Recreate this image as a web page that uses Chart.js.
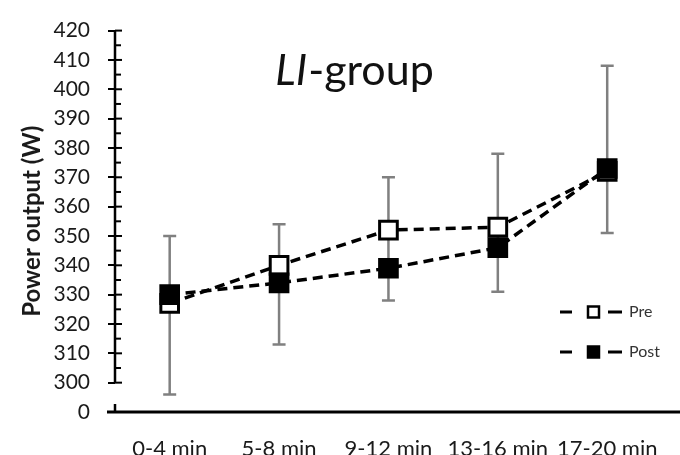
<!DOCTYPE html>
<html>
<head>
<title>LI-group</title>
<script src="https://cdn.jsdelivr.net/npm/chart.js"></script>
<style>
  body { margin: 0; overflow: hidden; background: #fff; }
</style>
</head>
<body>
<canvas id="myChart" width="683" height="455"></canvas>
<script>
const periods = ['0-4 min', '5-8 min', '9-12 min', '13-16 min', '17-20 min'];
const preValues = [327, 340, 352, 353, 372];
const postValues = [330, 334, 339, 346, 373];
// SD whiskers (low / high end)
const errLow = [296, 313, 328, 331, 351];
const errHigh = [350, 354, 370, 378, 408];
// axis is broken below 300, bottom step is labelled 0
const yMin = 290;
const yMax = 420;
const yStart = 300;

const decorations = {
  id: 'decorations',
  beforeDatasetsDraw(chart) {
    const { ctx, scales: { x, y }, chartArea } = chart;
    const left = chartArea.left;
    const base = y.getPixelForValue(yMin);
    ctx.save();

    // error bars
    ctx.strokeStyle = '#808080';
    ctx.lineWidth = 2.5;
    errLow.forEach((lo, i) => {
      const px = x.getPixelForValue(i);
      const top = y.getPixelForValue(errHigh[i]);
      const bot = y.getPixelForValue(lo);
      ctx.beginPath();
      ctx.moveTo(px, top); ctx.lineTo(px, bot);
      ctx.moveTo(px - 6.5, top); ctx.lineTo(px + 6.5, top);
      ctx.moveTo(px - 6.5, bot); ctx.lineTo(px + 6.5, bot);
      ctx.stroke();
    });

    // y axis line with the break, x axis line
    ctx.strokeStyle = '#000';
    ctx.lineWidth = 2.5;
    ctx.beginPath();
    ctx.moveTo(left, y.getPixelForValue(yMax));
    ctx.lineTo(left, y.getPixelForValue(yStart));
    ctx.moveTo(left, base);
    ctx.lineTo(left, base - 8);
    ctx.stroke();

    ctx.lineWidth = 3;
    ctx.beginPath();
    ctx.moveTo(left - 8, base);
    ctx.lineTo(chart.width, base);
    ctx.stroke();

    // inner major and minor tick marks
    ctx.lineWidth = 2;
    for (let v = yStart; v <= yMax; v += 5) {
      const py = y.getPixelForValue(v);
      ctx.beginPath();
      ctx.moveTo(left, py);
      ctx.lineTo(left + (v % 10 ? 6 : 7), py);
      ctx.stroke();
    }
    ctx.restore();
  },
  afterDraw(chart) {
    const { ctx } = chart;
    ctx.save();

    // panel title, italic group code
    const cx = 354, baseline = 85;
    ctx.fillStyle = '#111';
    ctx.textBaseline = 'alphabetic';
    ctx.font = 'italic 43px Lato';
    const w1 = ctx.measureText('LI').width;
    ctx.font = '43px Lato';
    const w2 = ctx.measureText('-group').width;
    const x0 = cx - (w1 + w2) / 2;
    ctx.font = 'italic 43px Lato';
    ctx.fillText('LI', x0, baseline);
    ctx.font = '43px Lato';
    ctx.fillText('-group', x0 + w1 + 1, baseline);

    // legend
    chart.data.datasets.forEach((ds, i) => {
      const ly = 312 + i * 40;
      ctx.strokeStyle = '#000';
      ctx.lineWidth = 3;
      ctx.beginPath();
      ctx.moveTo(560, ly); ctx.lineTo(572, ly);
      ctx.moveTo(608, ly); ctx.lineTo(622, ly);
      ctx.stroke();
      ctx.fillStyle = ds.pointBackgroundColor;
      ctx.lineWidth = 2.5;
      ctx.fillRect(588, ly - 5.5, 11, 11);
      ctx.strokeRect(588, ly - 5.5, 11, 11);
      ctx.fillStyle = '#333';
      ctx.font = '16px Lato';
      ctx.textBaseline = 'middle';
      ctx.fillText(ds.label, 629, ly);
    });
    ctx.restore();
  }
};

const ctx = document.getElementById('myChart');
new Chart(ctx, {
  type: 'line',
  data: {
    labels: periods,
    datasets: [{
      label: 'Pre',
      data: preValues,
      order: 2,
      borderColor: '#000',
      borderWidth: 3.5,
      borderDash: [10, 6],
      tension: 0,
      pointStyle: 'rect',
      pointRadius: 12.5,
      pointBorderWidth: 3,
      pointBorderColor: '#000',
      pointBackgroundColor: '#fff'
    }, {
      label: 'Post',
      data: postValues,
      order: 1,
      borderColor: '#000',
      borderWidth: 3.5,
      borderDash: [10, 6],
      tension: 0,
      pointStyle: 'rect',
      pointRadius: 12.5,
      pointBorderWidth: 3,
      pointBorderColor: '#000',
      pointBackgroundColor: '#000'
    }]
  },
  options: {
    responsive: false,
    animation: false,
    layout: { padding: { top: 24, right: 0, left: 0, bottom: 0 } },
    plugins: {
      legend: { display: false },
      tooltip: { enabled: false }
    },
    scales: {
      x: {
        offset: true,
        grid: { display: false, drawTicks: false },
        border: { display: false },
        ticks: {
          padding: 24,
          color: '#1a1a1a',
          font: { family: 'Lato', size: 22 }
        },
        afterFit(scale) { scale.height = 43; }
      },
      y: {
        min: yMin,
        max: yMax,
        border: { display: false },
        grid: { drawOnChartArea: false, color: '#000', lineWidth: 2, tickLength: 7 },
        ticks: {
          stepSize: 10,
          padding: 18,
          color: '#1a1a1a',
          font: { family: 'Lato', size: 21 },
          callback: v => (v === yMin ? '0' : v)
        },
        title: {
          display: true,
          text: 'Power output (W)',
          color: '#1a1a1a',
          font: { family: 'Lato', size: 24, weight: 'bold' },
          padding: { top: 18, bottom: 0 }
        },
        afterFit(scale) { scale.width = 115; }
      }
    }
  },
  plugins: [decorations]
});
</script>
</body>
</html>
